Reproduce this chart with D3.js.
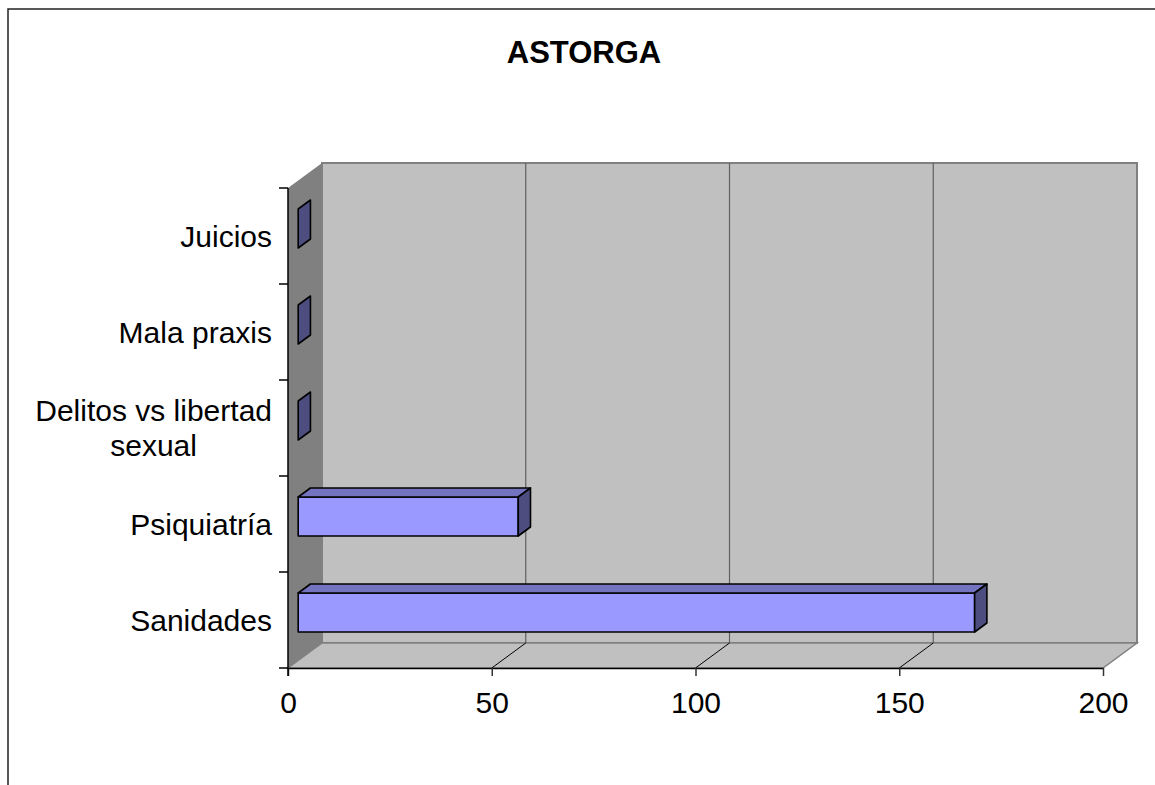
<!DOCTYPE html>
<html>
<head>
<meta charset="utf-8">
<script src="https://cdn.jsdelivr.net/npm/d3@7"></script>
<style>
  body { margin: 0; background: #fff; }
  svg { display: block; font-family: "Liberation Sans", Arial, sans-serif; }
</style>
</head>
<body>
<svg id="drawing_region"></svg>
<script>
// chart data
const title = "ASTORGA";
const categories = ["Juicios", "Mala praxis", "Delitos vs libertad sexual", "Psiquiatría", "Sanidades"];
const values = [0, 0, 0, 54, 166];
const xTicks = [0, 50, 100, 150, 200];

const config = {
    parent: '#drawing_region',
    width: 1155,
    height: 785,
    plot: { left: 288, right: 1103, top: 188, bottom: 668 },
    depth: { dx: 34, dy: -25 },   // 3d floor / wall offset
    barDepth: [0.3, 0.66],        // where the bars sit inside the depth
};

class Bar3D {
    constructor(config, categories, values) {
        this.config = config;
        this.data = categories.map((c, i) => ({ label: c, value: values[i] }));
        this.init();
    }

    init() {
        let self = this;
        const p = self.config.plot;

        self.svg = d3.select(self.config.parent)
            .attr('width', self.config.width)
            .attr('height', self.config.height);

        self.xscale = d3.scaleLinear()
            .domain([0, 200])
            .range([p.left, p.right]);

        self.yscale = d3.scaleBand()
            .domain(categories)
            .range([p.top, p.bottom])
            .paddingInner(0.594)
            .paddingOuter(0.297);

        // depth offsets as scales
        self.ddx = d3.scaleLinear().domain([0, 1]).range([0, self.config.depth.dx]);
        self.ddy = d3.scaleLinear().domain([0, 1]).range([0, self.config.depth.dy]);
    }

    render() {
        let self = this;
        const p = self.config.plot;
        const DX = self.ddx(1), DY = self.ddy(1);
        const line = d3.line();

        // chart area border
        self.svg.append('rect')
            .attr('x', 8).attr('y', 9)
            .attr('width', 1200).attr('height', 820)
            .attr('fill', '#fff')
            .attr('stroke', '#222')
            .attr('stroke-width', 1.5);

        // title
        self.svg.append('text')
            .attr('x', 584)
            .attr('y', 63)
            .attr('text-anchor', 'middle')
            .attr('font-size', 31)
            .attr('font-weight', 'bold')
            .text(title);

        // back wall
        self.svg.append('path')
            .attr('d', line([[p.left + DX, p.top + DY], [p.right + DX, p.top + DY], [p.right + DX, p.bottom + DY], [p.left + DX, p.bottom + DY]]) + 'Z')
            .attr('fill', '#c0c0c0')
            .attr('stroke', '#808080')
            .attr('stroke-width', 2);

        // left wall
        self.svg.append('path')
            .attr('d', line([[p.left, p.top], [p.left + DX, p.top + DY], [p.left + DX, p.bottom + DY], [p.left, p.bottom]]) + 'Z')
            .attr('fill', '#808080');

        // floor
        self.svg.append('path')
            .attr('d', line([[p.left, p.bottom], [p.right, p.bottom], [p.right + DX, p.bottom + DY], [p.left + DX, p.bottom + DY]]) + 'Z')
            .attr('fill', '#c0c0c0')
            .attr('stroke', '#808080')
            .attr('stroke-width', 1.5);

        // gridlines on back wall and floor
        const inner = xTicks.filter(v => v > 0 && v < 200);
        self.svg.selectAll('.grid')
            .data(inner)
            .enter()
            .append('line')
            .attr('x1', d => self.xscale(d) + DX).attr('x2', d => self.xscale(d) + DX)
            .attr('y1', p.top + DY).attr('y2', p.bottom + DY)
            .attr('stroke', '#606060')
            .attr('stroke-width', 1.2);

        self.svg.selectAll('.floorgrid')
            .data(inner)
            .enter()
            .append('line')
            .attr('x1', d => self.xscale(d)).attr('y1', p.bottom)
            .attr('x2', d => self.xscale(d) + DX).attr('y2', p.bottom + DY)
            .attr('stroke', '#000')
            .attr('stroke-width', 1);

        // bars
        const d0 = self.config.barDepth[0], d1 = self.config.barDepth[1];
        const bdx = self.ddx(d1) - self.ddx(d0), bdy = self.ddy(d1) - self.ddy(d0);
        const h = self.yscale.bandwidth();

        const bars = self.svg.selectAll('.bar')
            .data(self.data)
            .enter()
            .append('g')
            .attr('stroke', '#000')
            .attr('stroke-width', 1.6)
            .attr('stroke-linejoin', 'round');

        const x0 = d => self.xscale(0) + self.ddx(d0);
        const x1 = d => self.xscale(d.value) + self.ddx(d0);
        const y0 = d => self.yscale(d.label) + self.ddy(d0);

        bars.filter(d => d.value > 0)
            .append('path')
            .attr('d', d => line([[x0(d), y0(d)], [x1(d), y0(d)], [x1(d), y0(d) + h], [x0(d), y0(d) + h]]) + 'Z')
            .attr('fill', '#9999ff');

        bars.filter(d => d.value > 0)
            .append('path')
            .attr('d', d => line([[x0(d), y0(d)], [x1(d), y0(d)], [x1(d) + bdx, y0(d) + bdy], [x0(d) + bdx, y0(d) + bdy]]) + 'Z')
            .attr('fill', '#7373bf');

        bars.append('path')
            .attr('d', d => line([[x1(d), y0(d)], [x1(d) + bdx, y0(d) + bdy], [x1(d) + bdx, y0(d) + h + bdy], [x1(d), y0(d) + h]]) + 'Z')
            .attr('fill', '#4d4d80');

        // x axis
        const xaxis = d3.axisBottom(self.xscale)
            .tickValues(xTicks)
            .tickSize(8)
            .tickPadding(16)
            .tickSizeOuter(0);

        const xg = self.svg.append('g')
            .attr('transform', `translate(0, ${p.bottom})`)
            .call(xaxis);
        xg.select('.domain').attr('stroke', '#000').attr('stroke-width', 1.5);
        xg.selectAll('.tick line').attr('stroke', '#333').attr('stroke-width', 1.5);
        xg.selectAll('.tick text')
            .attr('font-size', 30)
            .attr('font-family', '"Liberation Sans", Arial, sans-serif')
            .attr('fill', '#000');

        // category axis: line, ticks at band boundaries, labels
        self.svg.append('line')
            .attr('x1', p.left).attr('x2', p.left)
            .attr('y1', p.top).attr('y2', p.bottom + 8)
            .attr('stroke', '#000').attr('stroke-width', 1.5);

        const step = self.yscale.step();
        const bounds = d3.range(categories.length + 1).map(i => p.top + i * step);
        self.svg.selectAll('.ytick')
            .data(bounds)
            .enter()
            .append('line')
            .attr('x1', p.left - 9).attr('x2', p.left)
            .attr('y1', d => d).attr('y2', d => d)
            .attr('stroke', '#000').attr('stroke-width', 1.5);

        const labelRight = p.left - 16;
        const lineH = 35;
        const maxW = 250;

        self.data.forEach(d => {
            const cy = self.yscale(d.label) + h / 2;
            const t = self.svg.append('text')
                .attr('font-size', 30)
                .attr('fill', '#000');

            // wrap words to maxW
            const words = d.label.split(' ');
            let lines = [], cur = '';
            const probe = t.append('tspan');
            words.forEach(w => {
                const test = cur ? cur + ' ' + w : w;
                probe.text(test);
                if (probe.node().getComputedTextLength() > maxW && cur) {
                    lines.push(cur);
                    cur = w;
                } else {
                    cur = test;
                }
            });
            lines.push(cur);
            probe.remove();

            let widest = 0;
            lines.forEach(l => {
                const s = t.append('tspan').text(l);
                widest = Math.max(widest, s.node().getComputedTextLength());
                s.remove();
            });

            const cx = labelRight - widest / 2;
            t.attr('text-anchor', 'middle');
            lines.forEach((l, i) => {
                t.append('tspan')
                    .attr('x', cx)
                    .attr('y', cy + (i - (lines.length - 1) / 2) * lineH)
                    .attr('dy', '0.35em')
                    .text(l);
            });
        });
    }
}

let chart = new Bar3D(config, categories, values);
chart.render();
</script>
</body>
</html>
